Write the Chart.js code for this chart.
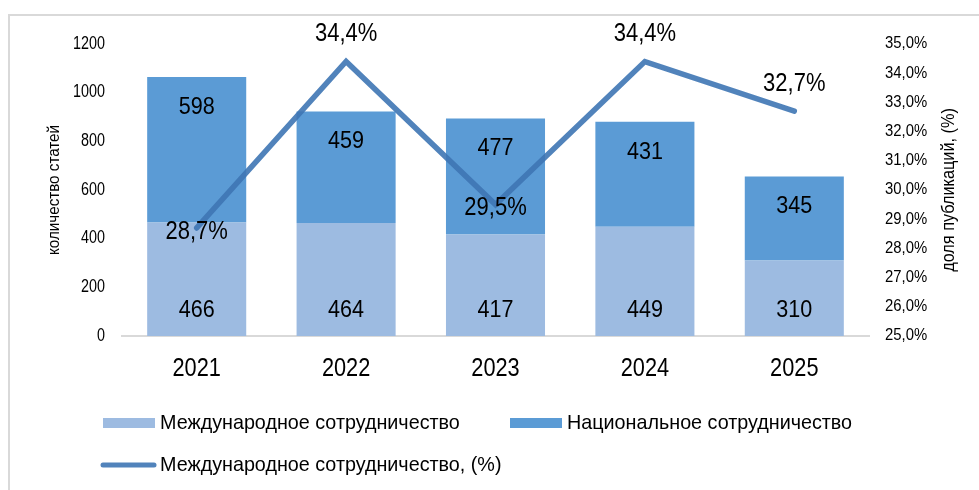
<!DOCTYPE html>
<html lang="ru">
<head>
<meta charset="utf-8">
<title>Сотрудничество</title>
<script src="https://cdn.jsdelivr.net/npm/chart.js@4.4.1/dist/chart.umd.min.js"></script>
<style>
  html, body { margin: 0; padding: 0; background: #ffffff; }
  #wrap { position: relative; width: 979px; height: 490px; }
</style>
</head>
<body>
<div id="wrap"><canvas id="chart"></canvas></div>
<script>
// Годы
const years = ['2021', '2022', '2023', '2024', '2025'];
// Количество статей: международное сотрудничество
const intlCollab = [466, 464, 417, 449, 310];
// Количество статей: национальное сотрудничество
const natCollab = [598, 459, 477, 431, 345];
// Доля публикаций в международном сотрудничестве, %
const intlShare = [28.7, 34.4, 29.5, 34.4, 32.7];
// Шкалы
const countMin = 0, countMax = 1200, countStep = 200;
const shareMin = 25, shareMax = 35, shareStep = 1;

// Где подписать точки линии: над точкой или по центру
const shareLabelPlace = ['center', 'above', 'center', 'above', 'above'];

const FONT = "'Liberation Sans', Arial, sans-serif";
const LIGHT = '#9dbbe1';
const DARK = '#5b9bd5';
const LINE = 'rgba(62,118,180,0.9)';
const TEXT = '#000000';

const fmtPct = v => v.toFixed(1).replace('.', ',') + '%';

// Узкий текст: обычный шрифт, сжатый по ширине в sx раз
function narrowText(ctx, text, x, y, size, sx, align, rotate) {
  ctx.save();
  ctx.translate(x, y);
  if (rotate) ctx.rotate(rotate);
  ctx.scale(sx, 1);
  ctx.font = size + 'px ' + FONT;
  ctx.fillStyle = TEXT;
  ctx.textAlign = align || 'center';
  ctx.textBaseline = 'middle';
  ctx.fillText(text, 0, 0);
  ctx.restore();
}

// Подписи значений на столбцах и точках
const valueLabels = {
  id: 'valueLabels',
  afterDatasetsDraw(chart) {
    const ctx = chart.ctx;
    chart.data.datasets.forEach((ds, di) => {
      const meta = chart.getDatasetMeta(di);
      meta.data.forEach((el, i) => {
        const v = ds.data[i];
        if (ds.type === 'line') {
          const dy = shareLabelPlace[i] === 'above' ? -27 : 4;
          narrowText(ctx, fmtPct(v), el.x, el.y + dy, 25, 0.88);
        } else if (ds.segment === 'bottom') {
          narrowText(ctx, String(v), el.x, el.base - 26, 24.5, 0.88);
        } else {
          narrowText(ctx, String(v), el.x, el.y + 30, 24.5, 0.88);
        }
      });
    });
  }
};

// Рамка, подписи осей и легенда
const decorations = {
  id: 'decorations',
  beforeDraw(chart) {
    const ctx = chart.ctx;
    ctx.save();
    ctx.fillStyle = '#d9d9d9';
    ctx.fillRect(8, 14, 2, chart.height - 14);
    ctx.fillRect(8, 14, chart.width - 8, 2);
    ctx.restore();
  },
  afterDraw(chart) {
    const ctx = chart.ctx;
    const area = chart.chartArea;
    const { x, y, y1 } = chart.scales;
    const midY = (area.top + area.bottom) / 2;

    // подписи делений
    y.ticks.forEach((t, i) => narrowText(ctx, String(t.value), area.left - 17, y.getPixelForTick(i), 17.5, 0.82, 'right'));
    y1.ticks.forEach((t, i) => narrowText(ctx, fmtPct(t.value), area.right + 16, y1.getPixelForTick(i), 16, 0.93, 'left'));
    x.ticks.forEach((t, i) => narrowText(ctx, chart.data.labels[i], x.getPixelForTick(i), area.bottom + 33, 25, 0.87));

    // названия осей (снизу вверх)
    narrowText(ctx, 'количество статей', 55, midY, 16, 0.95, 'center', -Math.PI / 2);
    narrowText(ctx, 'доля публикаций, (%)', 949, midY, 17.5, 0.93, 'center', -Math.PI / 2);

    // легенда
    const ds = chart.data.datasets;
    const items = [
      { d: ds[1], x: 103, y: 423 },
      { d: ds[2], x: 510, y: 423 },
      { d: ds[0], x: 103, y: 465 }
    ];
    items.forEach(it => {
      ctx.save();
      if (it.d.type === 'line') {
        ctx.strokeStyle = it.d.borderColor;
        ctx.lineWidth = 5;
        ctx.lineCap = 'round';
        ctx.beginPath();
        ctx.moveTo(it.x, it.y);
        ctx.lineTo(it.x + 51, it.y);
        ctx.stroke();
      } else {
        ctx.fillStyle = it.d.backgroundColor;
        ctx.fillRect(it.x, it.y - 5, 52, 10);
      }
      ctx.restore();
      narrowText(ctx, it.d.label, it.x + 57, it.y, 21, 0.94, 'left');
    });
  }
};

new Chart(document.getElementById('chart'), {
  type: 'bar',
  data: {
    labels: years,
    datasets: [
      {
        type: 'line',
        label: 'Международное сотрудничество, (%)',
        data: intlShare,
        yAxisID: 'y1',
        borderColor: LINE,
        backgroundColor: LINE,
        borderWidth: 5.5,
        borderCapStyle: 'round',
        borderJoinStyle: 'miter',
        pointRadius: 0,
        pointHoverRadius: 0,
        tension: 0,
        order: 0
      },
      {
        label: 'Международное сотрудничество',
        segment: 'bottom',
        data: intlCollab,
        yAxisID: 'y',
        backgroundColor: LIGHT,
        stack: 'articles',
        order: 1
      },
      {
        label: 'Национальное сотрудничество',
        segment: 'top',
        data: natCollab,
        yAxisID: 'y',
        backgroundColor: DARK,
        stack: 'articles',
        order: 2
      }
    ]
  },
  options: {
    responsive: true,
    maintainAspectRatio: false,
    animation: false,
    devicePixelRatio: 1,
    layout: { padding: { left: 0, right: 0, top: 44, bottom: 110 } },
    datasets: { bar: { barPercentage: 0.663, categoryPercentage: 1.0 } },
    plugins: {
      legend: { display: false },
      tooltip: { enabled: false }
    },
    scales: {
      x: {
        stacked: true,
        grid: { display: false },
        border: { display: true, color: '#d9d9d9', width: 2 },
        ticks: { display: false },
        afterFit(s) { s.height = 44; }
      },
      y: {
        stacked: true,
        position: 'left',
        min: countMin,
        max: countMax,
        grid: { display: false },
        border: { display: false },
        ticks: { stepSize: countStep, display: false },
        afterFit(s) { s.width = 122; }
      },
      y1: {
        position: 'right',
        min: shareMin,
        max: shareMax,
        grid: { display: false },
        border: { display: false },
        ticks: { stepSize: shareStep, display: false },
        afterFit(s) { s.width = 110; }
      }
    }
  },
  plugins: [valueLabels, decorations]
});
</script>
</body>
</html>
